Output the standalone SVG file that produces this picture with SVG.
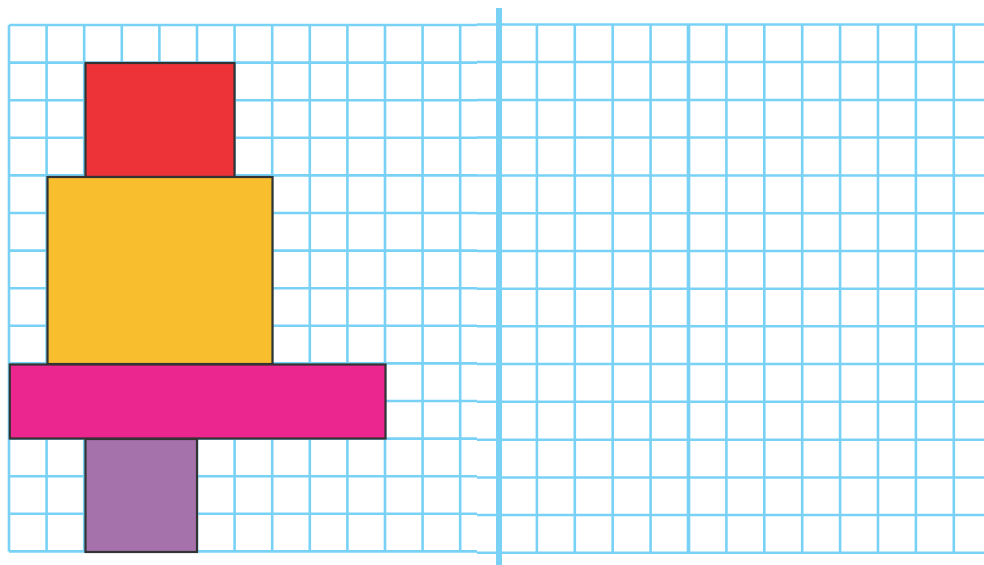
<svg xmlns="http://www.w3.org/2000/svg" width="984" height="565" viewBox="0 0 984 565">
<style>
.g{stroke:#79d2f6;stroke-width:2.6;fill:none}
.s{stroke:#333333;stroke-width:2.2}
</style>
<rect width="984" height="565" fill="#ffffff"/>
<g id="grid-left" class="g">
<path d="M9 25H477M9 62.6H477M9 100.2H477M9 137.8H477M9 175.4H477M9 213H477M9 250.6H477M9 288.2H477M9 325.8H477M9 363.4H477M9 401H477M9 438.6H477M9 476.2H477M9 513.8H477M9 551.4H477"/>
<path d="M9 25V551.4M46.6 25V551.4M84.2 25V551.4M121.8 25V551.4M159.4 25V551.4M197 25V551.4M234.6 25V551.4M272.2 25V551.4M309.8 25V551.4M347.4 25V551.4M385 25V551.4M422.6 25V551.4M460.2 25V551.4"/>
</g>
<g id="grid-right" class="g">
<path d="M477 24.5H984M477 62H984M477 100H984M477 137.5H984M477 175.5H984M477 213.2H984M477 251H984M477 288.7H984M477 326.3H984M477 364H984M477 401.8H984M477 439.8H984M477 477.5H984M477 515H984M477 552.8H984"/>
<path d="M536.9 24.5V552.8M574.8 24.5V552.8M612.7 24.5V552.8M650.6 24.5V552.8M726.4 24.5V552.8M764.3 24.5V552.8M802.2 24.5V552.8M840.1 24.5V552.8M878 24.5V552.8M915.9 24.5V552.8M953.8 24.5V552.8"/>
<path d="M688.5 24.5V552.8" stroke-width="3.6"/>
</g>
<path id="divider" d="M499 8V565" stroke="#79d2f6" stroke-width="6" fill="none"/>
<g id="red-block"><rect class="s" x="85.5" y="63" width="149" height="114" fill="#ee3338"/></g>
<g id="yellow-block"><rect class="s" x="47.5" y="177" width="225" height="187" fill="#f8be2e"/></g>
<g id="pink-block"><rect class="s" x="9.8" y="364.5" width="375.7" height="74" fill="#ec268f"/></g>
<g id="purple-block"><rect class="s" x="85.5" y="439" width="111.5" height="113" fill="#a672ab"/></g>
</svg>
